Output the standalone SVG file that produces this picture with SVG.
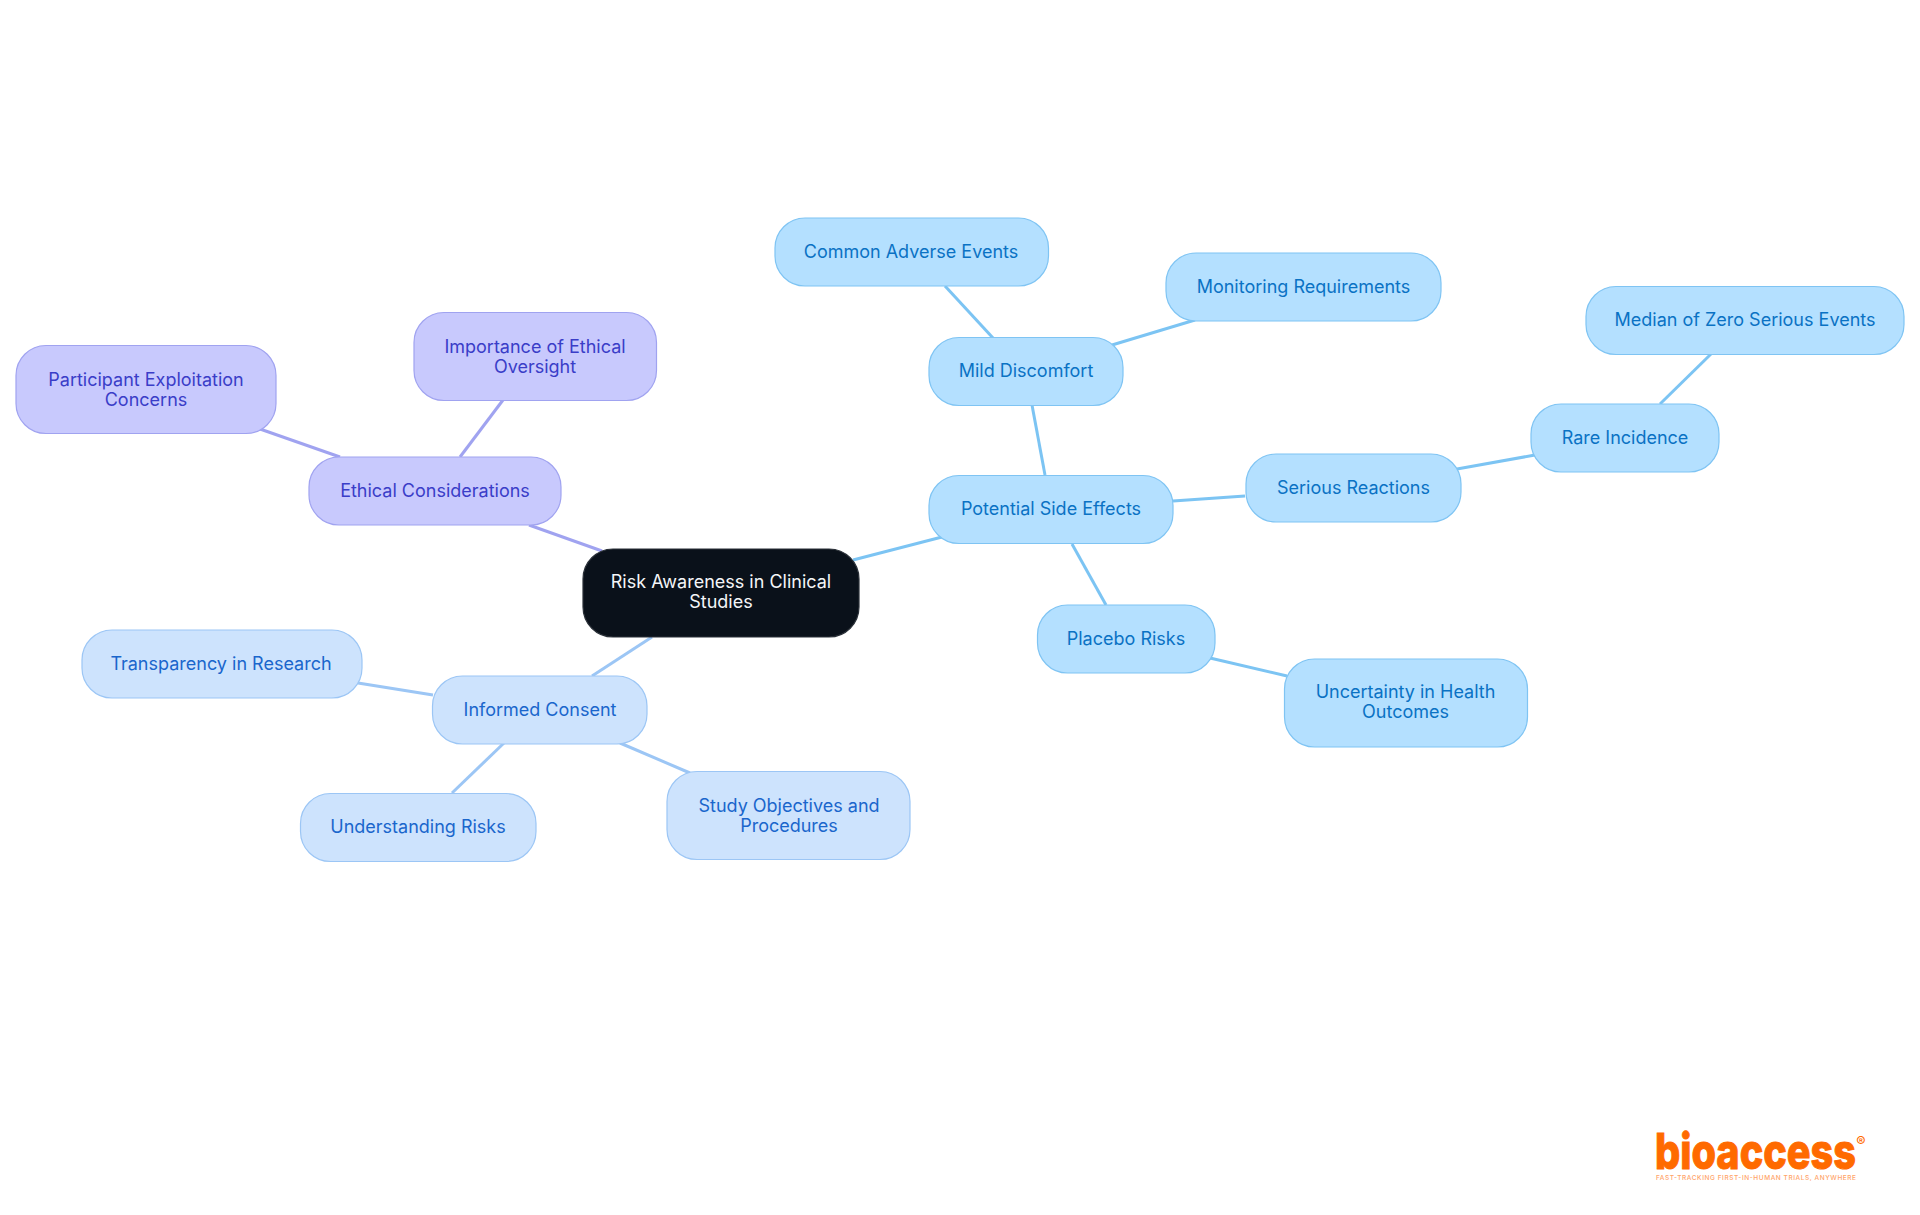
<svg xmlns="http://www.w3.org/2000/svg" width="1920" height="1215" viewBox="0 0 1920 1215">
<style>
text{font-family:"Inter","Noto Sans","Liberation Sans",sans-serif;font-size:18px;text-anchor:middle;font-weight:400}
.n{stroke-width:1.2}
.p .n{fill:#c8c9fd;stroke:#a0a3f0}.p text{fill:#3a3dc8}
.b .n{fill:#cde3fd;stroke:#9cc6f5}.b text{fill:#1a66cc}
.s .n{fill:#b4e0ff;stroke:#7fc4f3}.s text{fill:#0a72c4}
#connectors path{fill:none;stroke-width:3}
.cp{stroke:#a0a3f0}.cb{stroke:#9cc6f5}.cs{stroke:#7cc4f3}
</style>
<rect width="1920" height="1215" fill="#fff"/>
<g id="connectors">
<path class="cs" d="M853 560L942 537"/>
<path class="cs" d="M1045 475L1032 405"/>
<path class="cs" d="M993 338L945 286"/>
<path class="cs" d="M1112 345L1195 320"/>
<path class="cs" d="M1173 501L1245 496"/>
<path class="cs" d="M1457 469L1535 455"/>
<path class="cs" d="M1660 404L1711 354"/>
<path class="cs" d="M1072 544L1106 605"/>
<path class="cs" d="M1210 658L1287 676"/>
<path class="cp" d="M602 551L529 525"/>
<path class="cp" d="M460 457L503 400"/>
<path class="cp" d="M340 457L260 429"/>
<path class="cb" d="M652 637L592 676"/>
<path class="cb" d="M358 695L358 695M358 683L433 695"/>
<path class="cb" d="M504 743L452 793"/>
<path class="cb" d="M620 743L690 773"/>
</g>
<g id="root"><rect x="583" y="549" width="276" height="88" rx="30" fill="#0a111a" stroke="#2a3038" stroke-width="1.2"/><text fill="#f4f6f8" x="721" y="588">Risk Awareness in Clinical</text><text fill="#f4f6f8" x="721" y="608">Studies</text></g>
<g id="potential-side-effects" class="s"><rect class="n" x="929" y="475.500" width="244" height="68" rx="30"/><text x="1051" y="515">Potential Side Effects</text></g>
<g id="mild-discomfort" class="s"><rect class="n" x="929" y="337.500" width="194" height="68" rx="30"/><text x="1026" y="376.500">Mild Discomfort</text></g>
<g id="common-adverse-events" class="s"><rect class="n" x="775" y="218" width="273.500" height="68" rx="30"/><text x="911" y="257.500">Common Adverse Events</text></g>
<g id="monitoring-requirements" class="s"><rect class="n" x="1166" y="253" width="275" height="68" rx="30"/><text x="1303.500" y="292.500">Monitoring Requirements</text></g>
<g id="serious-reactions" class="s"><rect class="n" x="1246" y="454" width="215" height="68" rx="30"/><text x="1353.500" y="493.500">Serious Reactions</text></g>
<g id="rare-incidence" class="s"><rect class="n" x="1531" y="404" width="188" height="68" rx="30"/><text x="1625" y="443.500">Rare Incidence</text></g>
<g id="median-zero" class="s"><rect class="n" x="1586" y="286.500" width="318" height="68" rx="30"/><text x="1745" y="325.500">Median of Zero Serious Events</text></g>
<g id="placebo-risks" class="s"><rect class="n" x="1037.500" y="605" width="177.500" height="68" rx="30"/><text x="1126" y="644.500">Placebo Risks</text></g>
<g id="uncertainty" class="s"><rect class="n" x="1284.500" y="659" width="243" height="88" rx="30"/><text x="1405.500" y="698">Uncertainty in Health</text><text x="1405.500" y="718">Outcomes</text></g>
<g id="ethical-considerations" class="p"><rect class="n" x="309" y="457" width="252" height="68" rx="30"/><text x="435" y="496.500">Ethical Considerations</text></g>
<g id="ethical-oversight" class="p"><rect class="n" x="414" y="312.500" width="242.500" height="88" rx="30"/><text x="535" y="352.500">Importance of Ethical</text><text x="535" y="372.500">Oversight</text></g>
<g id="exploitation" class="p"><rect class="n" x="16" y="345.500" width="260" height="88" rx="30"/><text x="146" y="385.500">Participant Exploitation</text><text x="146" y="405.500">Concerns</text></g>
<g id="informed-consent" class="b"><rect class="n" x="432.500" y="676" width="214.500" height="68" rx="30"/><text x="540" y="715.500">Informed Consent</text></g>
<g id="transparency" class="b"><rect class="n" x="82" y="630" width="280" height="68" rx="30"/><text x="221" y="669.500">Transparency in Research</text></g>
<g id="understanding-risks" class="b"><rect class="n" x="300.500" y="793.500" width="235.500" height="68" rx="30"/><text x="418" y="833">Understanding Risks</text></g>
<g id="study-objectives" class="b"><rect class="n" x="667" y="771.500" width="243" height="88" rx="30"/><text x="789" y="811.500">Study Objectives and</text><text x="789" y="831.500">Procedures</text></g>
<g id="logo"><text x="1655" y="1169" textLength="201" lengthAdjust="spacingAndGlyphs" style="font-size:50px;font-weight:800;text-anchor:start;fill:#ff6a00;stroke:#ff6a00;stroke-width:1">bioaccess</text><text x="1861" y="1147" style="font-size:14px;font-weight:500;fill:#ff6a00">®</text><text x="1656" y="1180" textLength="200" style="font-size:6.500px;font-weight:500;text-anchor:start;fill:#ffa468">FAST-TRACKING FIRST-IN-HUMAN TRIALS, ANYWHERE</text></g>
</svg>
